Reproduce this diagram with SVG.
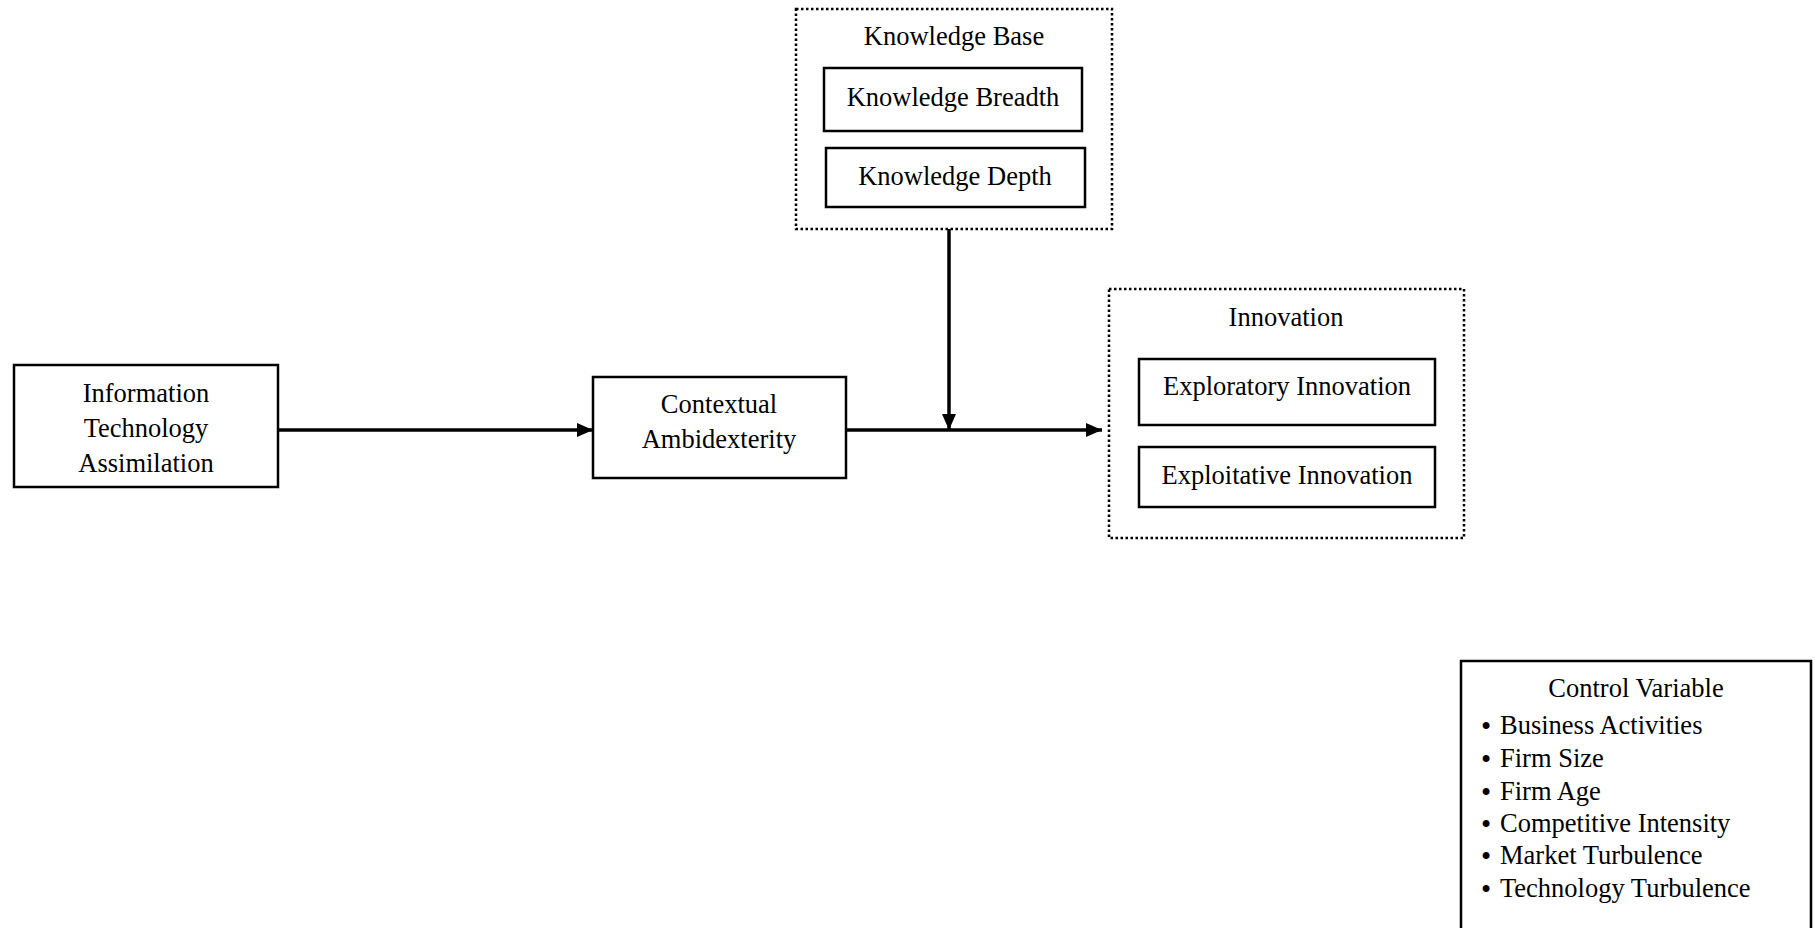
<svg xmlns="http://www.w3.org/2000/svg" width="1815" height="928" viewBox="0 0 1815 928">
<style>
text{font-family:"Liberation Serif","Times New Roman",serif;font-size:26.5px;fill:#000}
.c{text-anchor:middle}
.b{font-size:29px}
.box{fill:#fff;stroke:#000;stroke-width:2.5}
.dot{fill:#fff;stroke:#000;stroke-width:2.5;stroke-dasharray:2.5 2.5}
.ln{stroke:#000;stroke-width:3.5;fill:none}
</style>
<defs>
<marker id="ah" markerWidth="16" markerHeight="14" refX="16" refY="7" orient="auto" markerUnits="userSpaceOnUse">
<path d="M0,0 L16,7 L0,14 Z" fill="#000"/>
</marker>
</defs>
<rect width="1815" height="928" fill="#fff"/>
<g id="knowledge-base">
<rect class="dot" x="796" y="9" width="316" height="220"/>
<text class="c" x="954" y="45">Knowledge Base</text>
<g id="knowledge-breadth">
<rect class="box" x="824" y="68" width="258" height="63"/>
<text class="c" x="953" y="106">Knowledge Breadth</text>
</g>
<g id="knowledge-depth">
<rect class="box" x="826" y="148" width="259" height="59"/>
<text class="c" x="955" y="185">Knowledge Depth</text>
</g>
</g>
<g id="it-assimilation">
<rect class="box" x="14" y="365" width="264" height="122"/>
<text class="c" x="146" y="402">Information</text>
<text class="c" x="146" y="437">Technology</text>
<text class="c" x="146" y="472">Assimilation</text>
</g>
<g id="contextual-ambidexterity">
<rect class="box" x="593" y="377" width="253" height="101"/>
<text class="c" x="719" y="413">Contextual</text>
<text class="c" x="719" y="448">Ambidexterity</text>
</g>
<g id="innovation">
<rect class="dot" x="1109" y="289" width="355" height="249"/>
<text class="c" x="1286" y="326">Innovation</text>
<g id="exploratory">
<rect class="box" x="1139" y="359" width="296" height="66"/>
<text class="c" x="1287" y="395">Exploratory Innovation</text>
</g>
<g id="exploitative">
<rect class="box" x="1139" y="447" width="296" height="60"/>
<text class="c" x="1287" y="484">Exploitative Innovation</text>
</g>
</g>
<g id="control-variable">
<rect class="box" x="1461" y="661" width="350" height="275"/>
<text class="c" x="1636" y="697">Control Variable</text>
<text class="b" x="1481" y="736">•</text><text x="1500" y="734">Business Activities</text>
<text class="b" x="1481" y="769">•</text><text x="1500" y="767">Firm Size</text>
<text class="b" x="1481" y="802">•</text><text x="1500" y="800">Firm Age</text>
<text class="b" x="1481" y="834">•</text><text x="1500" y="832">Competitive Intensity</text>
<text class="b" x="1481" y="866">•</text><text x="1500" y="864">Market Turbulence</text>
<text class="b" x="1481" y="899">•</text><text x="1500" y="897">Technology Turbulence</text>
</g>
<g id="connectors">
<line class="ln" x1="279" y1="430" x2="593" y2="430" marker-end="url(#ah)"/>
<line class="ln" x1="847" y1="430" x2="1102" y2="430" marker-end="url(#ah)"/>
<line class="ln" x1="949" y1="229" x2="949" y2="430" marker-end="url(#ah)"/>
</g>
</svg>
